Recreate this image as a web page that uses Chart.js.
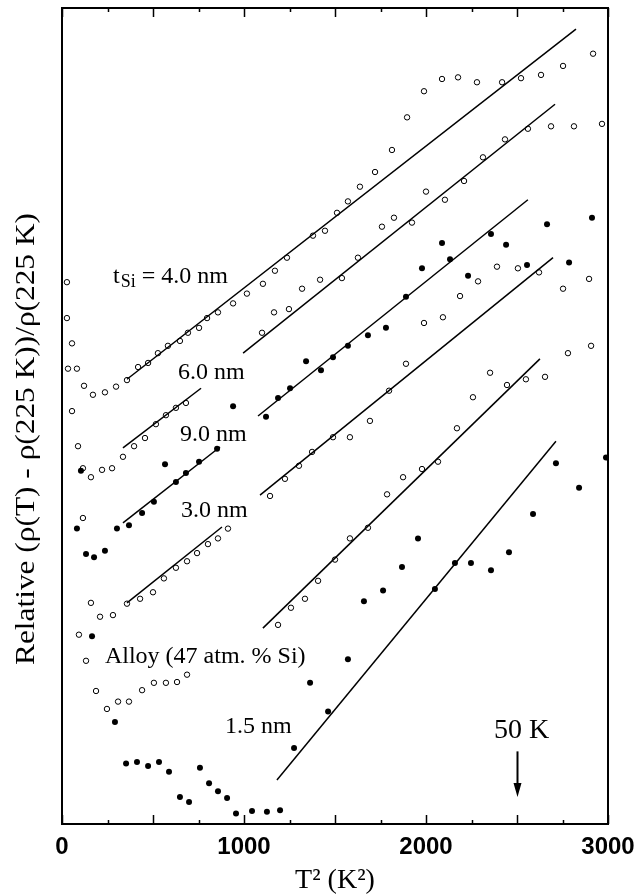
<!DOCTYPE html>
<html>
<head>
<meta charset="utf-8">
<title>Relative resistivity vs T²</title>
<script src="https://cdn.jsdelivr.net/npm/chart.js@4.4.1/dist/chart.umd.min.js"></script>
<style>
  html, body { margin: 0; padding: 0; background: #fff; }
</style>
</head>
<body>
<canvas id="resChart" width="644" height="896"></canvas>
<script>
// T^2 (K^2) against relative resistivity change (offset per film, arbitrary units)
const t40_x = [27, 27, 55, 82, 121, 170, 236, 297, 357, 418, 473, 527, 582, 648, 692, 753, 797, 857, 940, 1016,
  1104, 1170, 1236, 1379, 1445, 1511, 1571, 1637, 1720, 1813, 1896, 1989, 2088, 2176, 2280, 2418, 2522, 2632, 2753, 2918];
const t40_y = [66.4, 62.0, 58.9, 55.8, 53.7, 52.6, 52.9, 53.6, 54.4, 56.0, 56.5, 57.7, 58.6, 59.2, 60.2, 60.8, 62.0, 62.7, 63.8, 65.0,
  66.2, 67.8, 69.4, 72.1, 72.7, 74.9, 76.3, 78.1, 79.9, 82.6, 86.6, 89.8, 91.3, 91.5, 90.9, 90.9, 91.4, 91.8, 92.9, 94.4];

const t60_x = [33, 55, 88, 115, 159, 220, 275, 335, 396, 456, 516, 571, 626, 681, 1099, 1165, 1247, 1319, 1418, 1538,
  1626, 1758, 1824, 1923, 2000, 2104, 2209, 2313, 2434, 2560, 2687, 2813, 2967];
const t60_y = [55.8, 50.6, 46.3, 43.6, 42.5, 43.4, 43.6, 45.0, 46.3, 47.3, 49.0, 50.1, 51.0, 51.6, 60.2, 62.7, 63.1, 65.6, 66.7, 66.9,
  69.4, 73.2, 74.3, 73.7, 77.5, 76.5, 78.8, 81.7, 83.9, 85.2, 85.5, 85.5, 85.8];

const t90_x = [82, 104, 132, 176, 236, 302, 368, 440, 505, 566, 626, 681, 753, 852, 940, 1121, 1187, 1253, 1341, 1423,
  1489, 1571, 1681, 1780, 1890, 1978, 2088, 2132, 2231, 2357, 2440, 2555, 2665, 2786, 2912];
const t90_y = [36.2, 43.3, 33.1, 32.7, 33.5, 36.2, 36.6, 38.1, 39.5, 44.1, 41.9, 43.0, 44.4, 46.0, 51.2, 49.9, 52.2, 53.4, 56.7, 55.6,
  57.2, 58.6, 59.9, 60.8, 64.6, 68.1, 71.2, 69.2, 67.2, 72.3, 71.0, 68.5, 73.5, 68.8, 74.3];

const t30_x = [115, 159, 209, 280, 357, 429, 500, 560, 626, 687, 742, 802, 857, 912, 1143, 1225, 1302, 1374, 1489, 1582,
  1692, 1797, 1890, 1989, 2093, 2187, 2286, 2390, 2505, 2621, 2753, 2896];
const t30_y = [37.5, 27.1, 25.4, 25.6, 27.0, 27.6, 28.4, 30.1, 31.4, 32.2, 33.2, 34.3, 35.0, 36.2, 40.2, 42.3, 43.9, 45.6, 47.4, 47.4,
  49.4, 53.1, 56.4, 61.4, 62.1, 64.7, 66.5, 68.3, 68.1, 67.6, 65.6, 66.8];

const alloy_x = [93, 132, 187, 247, 308, 368, 440, 505, 571, 632, 687, 1187, 1258, 1335, 1407, 1500, 1582, 1681, 1786, 1874,
  1978, 2066, 2170, 2258, 2352, 2445, 2549, 2654, 2780, 2907];
const alloy_y = [23.2, 20.0, 16.3, 14.1, 15.0, 15.0, 16.4, 17.3, 17.3, 17.4, 18.3, 24.4, 26.5, 27.6, 29.8, 32.4, 35.0, 36.3, 40.4, 42.5,
  43.5, 44.4, 48.5, 52.3, 55.3, 53.8, 54.5, 54.8, 57.7, 58.6];

const t15_x = [165, 291, 352, 412, 473, 533, 588, 648, 698, 758, 808, 857, 907, 956, 1044, 1126, 1198, 1275, 1363, 1462,
  1571, 1659, 1764, 1868, 1956, 2049, 2159, 2247, 2357, 2456, 2588, 2714, 2841, 2989];
const t15_y = [23.0, 12.5, 7.4, 7.6, 7.1, 7.6, 6.4, 3.3, 2.7, 6.9, 5.0, 4.0, 3.2, 1.3, 1.6, 1.5, 1.7, 9.3, 17.3, 13.8,
  20.2, 27.3, 28.6, 31.5, 35.0, 28.8, 32.0, 32.0, 31.1, 33.3, 38.0, 44.2, 41.2, 44.9];

// linear T^2 fits, each piece as [start, end]; some are interrupted where a label sits
const fit40 = [[[357, 54.5], [2824, 97.4]]];
const fit60 = [[[335, 46.1], [764, 53.4]], [[995, 57.7], [2709, 88.2]]];
const fit90 = [[[335, 36.9], [868, 46.2]], [[1077, 50.0], [2560, 76.5]]];
const fit30 = [[[357, 27.1], [879, 36.4]], [[1088, 40.3], [2698, 69.4]]];
const fitAlloy = [[[1104, 24.0], [2626, 57.0]]];
const fit15 = [[[1181, 5.4], [2714, 46.9]]];

const xTickStep = 250;
const xLabelStep = 1000;
const marker50K = 2500; // (50 K)^2

const SERIF = '"Liberation Serif", "Times New Roman", serif';

function points(xs, ys) {
  return xs.map((x, i) => ({ x: x, y: ys[i] }));
}

function openSet(label, xs, ys) {
  return {
    label: label, data: points(xs, ys),
    pointStyle: 'circle', pointRadius: 2.7, pointBorderWidth: 1,
    pointBorderColor: '#000', pointBackgroundColor: 'rgba(0,0,0,0)', showLine: false
  };
}

function filledSet(label, xs, ys) {
  return {
    label: label, data: points(xs, ys),
    pointStyle: 'circle', pointRadius: 3, pointBorderWidth: 0,
    pointBackgroundColor: '#000', showLine: false
  };
}

function fitSets(label, pieces) {
  return pieces.map(p => ({
    label: label + ' fit', type: 'line',
    data: p.map(q => ({ x: q[0], y: q[1] })),
    borderColor: '#000', borderWidth: 1.5, pointRadius: 0, fill: false, showLine: true
  }));
}

// frame, inward ticks, in-plot labels and the 50 K marker
const decorations = {
  id: 'decorations',
  afterDatasetsDraw(chart) {
    const { ctx, chartArea: a, scales: { x, y } } = chart;
    ctx.save();
    ctx.strokeStyle = '#000';
    ctx.fillStyle = '#000';

    ctx.lineWidth = 1.5;
    x.ticks.forEach(t => {
      const px = Math.round(x.getPixelForValue(t.value)) + 0.5;
      const len = t.value % 500 === 0 ? 9 : 4;
      ctx.beginPath();
      ctx.moveTo(px, a.bottom); ctx.lineTo(px, a.bottom - len);
      ctx.moveTo(px, a.top); ctx.lineTo(px, a.top + len);
      ctx.stroke();
    });

    ctx.lineWidth = 2;
    ctx.strokeRect(a.left, a.top, a.right - a.left, a.bottom - a.top);

    // film labels
    ctx.textBaseline = 'alphabetic';
    ctx.textAlign = 'left';
    ctx.font = '24px ' + SERIF;
    const filmLabels = [
      ['6.0 nm', 637, 54.5], ['9.0 nm', 648, 46.9], ['3.0 nm', 654, 37.6],
      ['Alloy (47 atm. % Si)', 236, 19.7], ['1.5 nm', 896, 11.2]
    ];
    filmLabels.forEach(([txt, vx, vy]) => {
      ctx.fillText(txt, x.getPixelForValue(vx), y.getPixelForValue(vy));
    });

    // t_Si = 4.0 nm
    let lx = x.getPixelForValue(280);
    const ly = y.getPixelForValue(66.3);
    ctx.fillText('t', lx, ly);
    lx += ctx.measureText('t').width + 1;
    ctx.font = '18px ' + SERIF;
    ctx.fillText('Si', lx, ly + 4);
    lx += ctx.measureText('Si').width;
    ctx.font = '24px ' + SERIF;
    ctx.fillText(' = 4.0 nm', lx, ly);

    // 50 K arrow
    const ax = Math.round(x.getPixelForValue(marker50K)) + 0.5;
    ctx.font = '28px ' + SERIF;
    ctx.textAlign = 'center';
    ctx.fillText('50 K', ax + 4, y.getPixelForValue(10.5));
    const yTop = y.getPixelForValue(8.9);
    const yTip = y.getPixelForValue(3.3);
    ctx.lineWidth = 2;
    ctx.beginPath();
    ctx.moveTo(ax, yTop); ctx.lineTo(ax, yTip - 10);
    ctx.stroke();
    ctx.beginPath();
    ctx.moveTo(ax - 4, yTip - 14); ctx.lineTo(ax + 4, yTip - 14); ctx.lineTo(ax, yTip);
    ctx.closePath();
    ctx.fill();

    // axis titles
    ctx.font = '28px ' + SERIF;
    ctx.textAlign = 'center';
    ctx.fillText('T² (K²)', (a.left + a.right) / 2, 888);

    const yTitle = 'Relative (ρ(T) - ρ(225 K))/ρ(225 K)';
    const yTitleLen = 452;
    ctx.save();
    ctx.translate(34, (a.top + a.bottom) / 2 + 23);
    ctx.rotate(-Math.PI / 2);
    ctx.scale(yTitleLen / ctx.measureText(yTitle).width, 1);
    ctx.fillText(yTitle, 0, 0);
    ctx.restore();

    ctx.restore();
  }
};

const datasets = [].concat(
  fitSets('4.0 nm', fit40), fitSets('6.0 nm', fit60), fitSets('9.0 nm', fit90),
  fitSets('3.0 nm', fit30), fitSets('Alloy', fitAlloy), fitSets('1.5 nm', fit15),
  [
    openSet('4.0 nm', t40_x, t40_y),
    openSet('6.0 nm', t60_x, t60_y),
    filledSet('9.0 nm', t90_x, t90_y),
    openSet('3.0 nm', t30_x, t30_y),
    openSet('Alloy (47 atm. % Si)', alloy_x, alloy_y),
    filledSet('1.5 nm', t15_x, t15_y)
  ]
);

new Chart(document.getElementById('resChart'), {
  type: 'scatter',
  data: { datasets: datasets },
  options: {
    responsive: false,
    animation: false,
    layout: { padding: { left: 62, right: 36, top: 8, bottom: 0 } },
    plugins: { legend: { display: false }, tooltip: { enabled: false } },
    scales: {
      x: {
        type: 'linear', min: 0, max: 3000,
        afterFit: scale => { scale.height = 72; },
        grid: { display: false, drawTicks: false },
        border: { display: false },
        ticks: {
          stepSize: xTickStep, autoSkip: false, maxRotation: 0, padding: 9, color: '#000',
          font: { family: '"Liberation Sans", Arial, sans-serif', weight: 'bold', size: 24 },
          callback: v => (v % xLabelStep === 0 ? String(v) : '')
        }
      },
      y: { type: 'linear', min: 0, max: 100, display: false }
    }
  },
  plugins: [decorations]
});
</script>
</body>
</html>
